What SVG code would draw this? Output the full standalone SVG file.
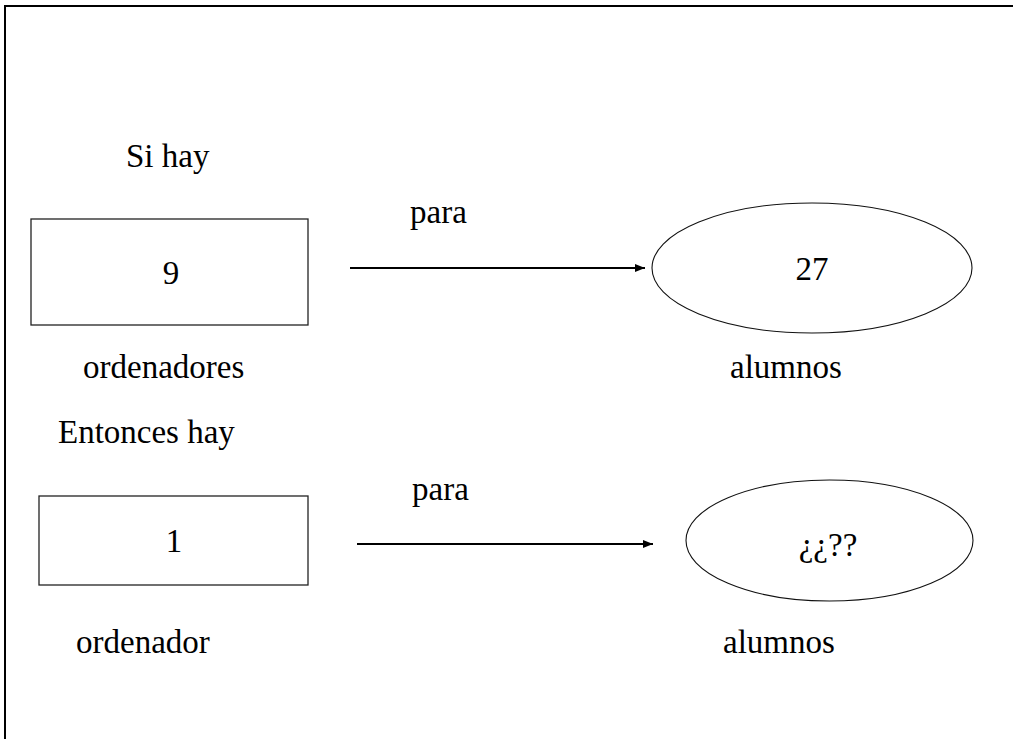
<svg xmlns="http://www.w3.org/2000/svg" width="1013" height="739" viewBox="0 0 1013 739">
<style>
text{font-family:"Liberation Serif","Times New Roman",serif;font-size:33px;fill:#000}
.box{fill:#fff;stroke:#222;stroke-width:1.3}
.ell{fill:#fff;stroke:#111;stroke-width:1.1}
.conn{stroke:#000;stroke-width:2;fill:none}
</style>
<defs>
<marker id="ah" markerWidth="10" markerHeight="8" refX="10" refY="4" orient="auto" markerUnits="userSpaceOnUse">
<path d="M0,0 L10,4 L0,8 Z" fill="#000"/>
</marker>
</defs>
<rect width="1013" height="739" fill="#fff"/>
<rect x="5" y="6" width="1030" height="760" fill="none" stroke="#000" stroke-width="2"/>
<g id="labels">
<text x="126" y="167">Si hay</text>
<text x="83" y="378">ordenadores</text>
<text x="58" y="443">Entonces hay</text>
<text x="730" y="378">alumnos</text>
<text x="76" y="653">ordenador</text>
<text x="723" y="653">alumnos</text>
<text x="410" y="223">para</text>
<text x="412" y="500">para</text>
</g>
<g id="node-9">
<rect class="box" x="31" y="219" width="277" height="106"/>
<text x="171" y="284" text-anchor="middle">9</text>
</g>
<g id="node-27">
<ellipse class="ell" cx="812" cy="268" rx="160" ry="65"/>
<text x="812" y="280" text-anchor="middle">27</text>
</g>
<g id="node-1">
<rect class="box" x="39" y="496" width="269" height="89"/>
<text x="174" y="552" text-anchor="middle">1</text>
</g>
<g id="node-q">
<ellipse class="ell" cx="829.5" cy="540.5" rx="143.5" ry="60.5"/>
<text x="828" y="556" text-anchor="middle">¿¿??</text>
</g>
<g id="connectors">
<line class="conn" x1="350" y1="268" x2="645" y2="268" marker-end="url(#ah)"/>
<line class="conn" x1="357" y1="544" x2="653" y2="544" marker-end="url(#ah)"/>
</g>
</svg>
